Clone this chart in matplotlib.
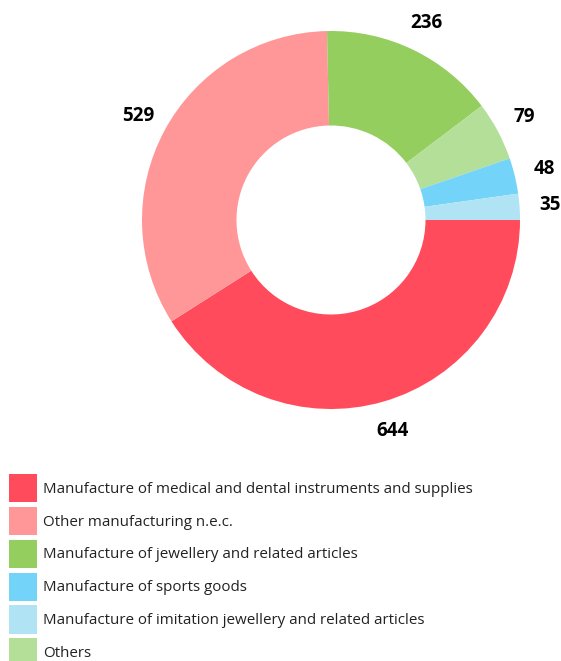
import matplotlib
matplotlib.use("Agg")
import matplotlib.pyplot as plt
from matplotlib.patches import Patch

plt.rcParams['font.family'] = ['Open Sans', 'DejaVu Sans']

# slices in drawing order (clockwise from 3 o'clock)
categories = ["Manufacture of medical and dental instruments and supplies",
              "Other manufacturing n.e.c.",
              "Manufacture of jewellery and related articles",
              "Others",
              "Manufacture of sports goods",
              "Manufacture of imitation jewellery and related articles"]
values = [644, 529, 236, 79, 48, 35]
colors = ["#FF4B5C", "#FF9799", "#94CE5E", "#B3DF98", "#73D3F8", "#B0E3F3"]

# legend order
legend_order = [0, 1, 2, 4, 5, 3]

fig = plt.figure(figsize=(5.61, 6.61), dpi=100)
ax = fig.add_axes([142 / 561, 1 - 409 / 661, 378 / 561, 378 / 661])

wedges, texts = ax.pie(values, colors=colors, startangle=0, counterclock=False,
                       labels=[str(v) for v in values], labeldistance=1.16,
                       radius=1, wedgeprops=dict(width=0.5, linewidth=0),
                       textprops=dict(fontsize=13.5, fontweight='bold', color='black'))
for t in texts:
    t.set_ha('center')
    t.set_va('center')
ax.set_xlim(-1, 1)
ax.set_ylim(-1, 1)
ax.set_aspect('equal')

handles = [Patch(facecolor=colors[i], edgecolor='none') for i in legend_order]
labels = [categories[i] for i in legend_order]
fig.legend(handles, labels, loc='upper left', bbox_to_anchor=(9 / 561, 1 - 474 / 661),
           frameon=False, fontsize=10.9, handlelength=1.85, handleheight=2.5,
           handletextpad=0.4, labelspacing=0.3, borderpad=0, borderaxespad=0,
           labelcolor='#222222')

fig.savefig("out.png", dpi=100)
